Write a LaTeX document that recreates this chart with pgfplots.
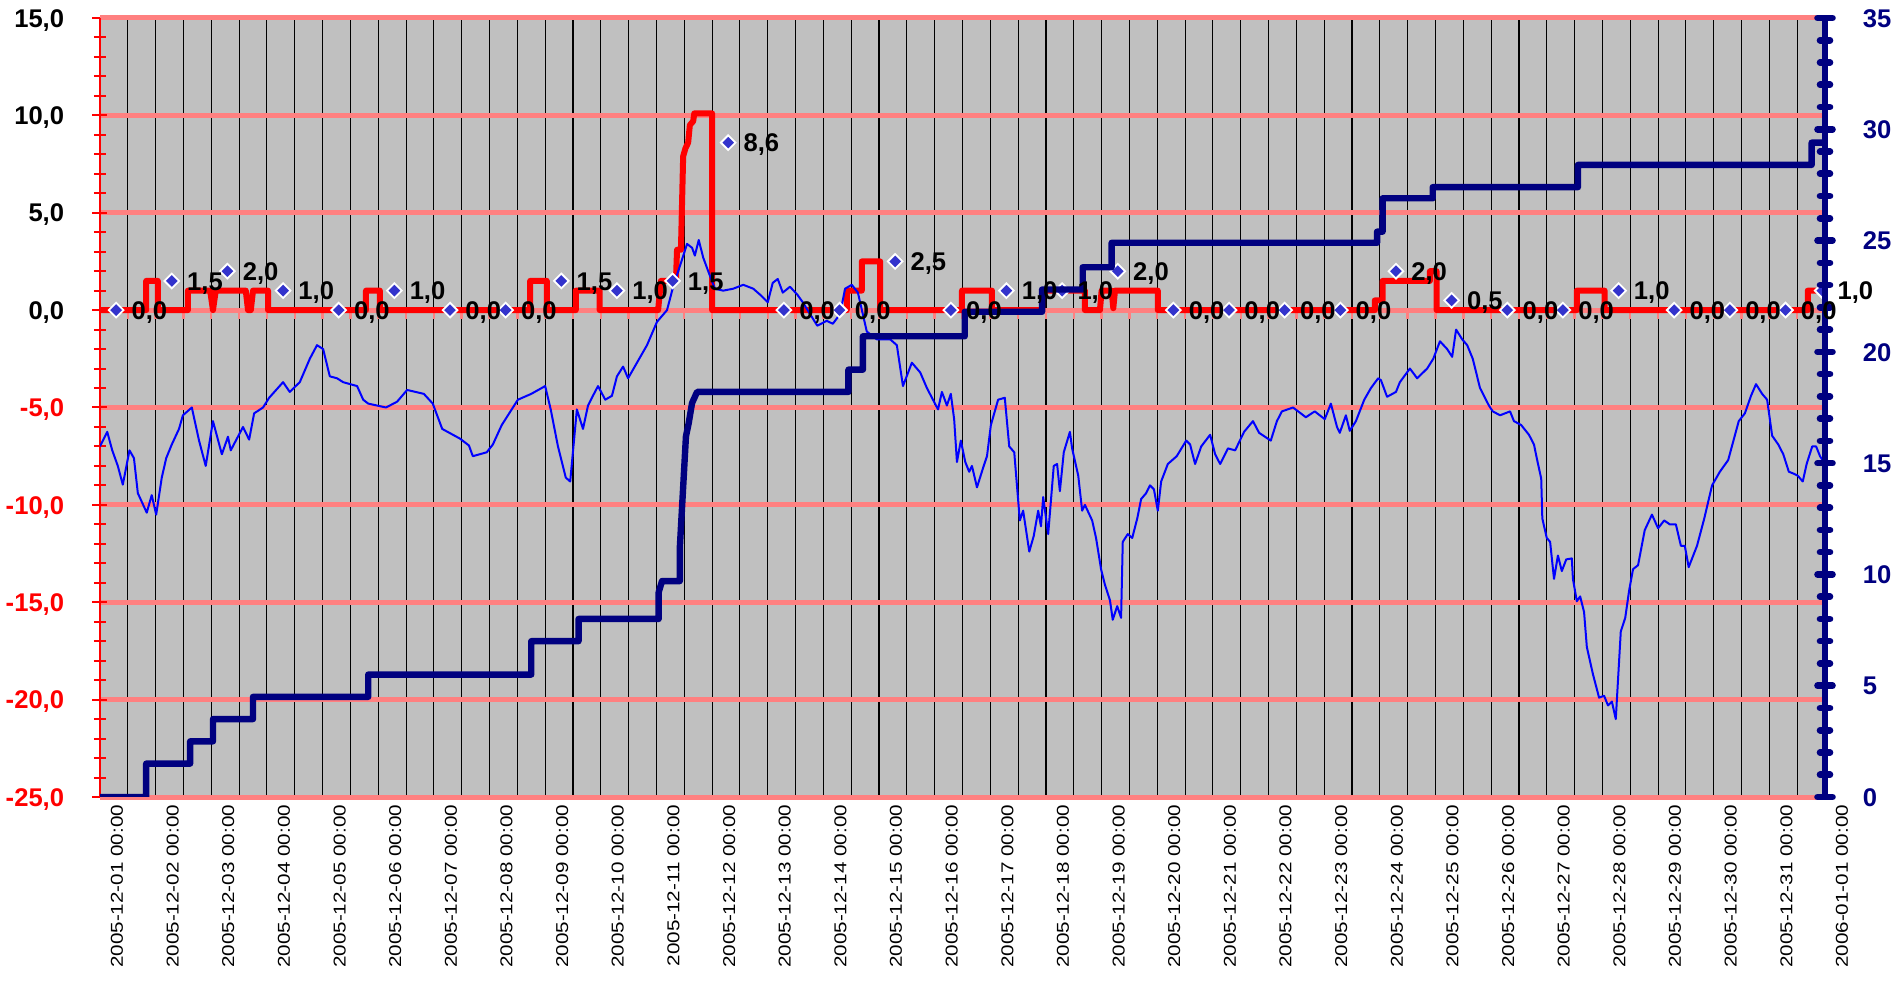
\documentclass[border=0pt]{standalone}
\usepackage{fontspec}
\setmainfont{Liberation Sans}
\newfontfamily\datefont[FakeStretch=1.2]{Liberation Sans}
\usepackage{pgfplots}
\usepackage{pgfplotstable}
\pgfplotsset{compat=1.18}

\definecolor{bggray}{RGB}{192,192,192}
\definecolor{gridpink}{RGB}{255,128,128}
\definecolor{navyc}{RGB}{0,0,128}
\definecolor{diafill}{RGB}{51,51,204}
\newcommand\lblfont{\fontsize{12.8bp}{14bp}\selectfont\bfseries}

% temperature (left axis)
\pgfplotstableread{
x y
0.00 -7.0
0.13 -6.25
0.22 -7.2
0.32 -8.0
0.41 -8.96
0.53 -7.2
0.61 -7.6
0.68 -9.4
0.84 -10.4
0.93 -9.5
1.01 -10.5
1.11 -8.6
1.19 -7.6
1.29 -6.9
1.42 -6.1
1.49 -5.4
1.65 -5.0
1.78 -6.7
1.90 -8.0
2.03 -5.7
2.19 -7.4
2.30 -6.5
2.35 -7.2
2.57 -6.0
2.68 -6.65
2.77 -5.3
2.93 -5.0
3.04 -4.5
3.29 -3.7
3.41 -4.2
3.59 -3.7
3.77 -2.5
3.90 -1.8
4.01 -2.0
4.13 -3.4
4.26 -3.5
4.37 -3.7
4.62 -3.9
4.73 -4.6
4.82 -4.8
5.14 -5.0
5.34 -4.7
5.52 -4.1
5.82 -4.3
5.98 -4.8
6.15 -6.1
6.47 -6.6
6.63 -6.95
6.70 -7.5
6.95 -7.3
7.06 -6.9
7.22 -5.9
7.51 -4.6
7.75 -4.3
8.00 -3.9
8.10 -5.1
8.23 -7.0
8.37 -8.6
8.45 -8.8
8.57 -5.1
8.68 -6.1
8.77 -4.9
8.84 -4.5
8.95 -3.9
9.08 -4.6
9.20 -4.4
9.29 -3.4
9.40 -2.9
9.49 -3.5
9.65 -2.7
9.83 -1.8
10.01 -0.6
10.19 0.0
10.30 1.2
10.46 2.6
10.55 3.4
10.64 3.2
10.69 2.8
10.76 3.6
10.84 2.7
10.93 2.0
11.05 1.1
11.20 1.0
11.38 1.1
11.56 1.3
11.74 1.1
11.86 0.8
12.00 0.4
12.09 1.4
12.18 1.6
12.27 0.9
12.40 1.2
12.53 0.8
12.63 0.4
12.89 -0.8
13.06 -0.55
13.17 -0.7
13.30 -0.2
13.39 1.1
13.51 1.3
13.62 0.9
13.78 -1.1
13.96 -1.5
14.20 -1.5
14.32 -1.8
14.43 -3.9
14.59 -2.7
14.74 -3.2
14.86 -4.0
15.06 -5.1
15.13 -4.2
15.22 -4.9
15.29 -4.3
15.35 -5.6
15.40 -7.8
15.47 -6.7
15.55 -7.8
15.62 -8.3
15.67 -8.0
15.76 -9.1
15.87 -8.1
15.94 -7.5
16.01 -5.9
16.14 -4.6
16.26 -4.5
16.34 -7.0
16.43 -7.3
16.53 -10.8
16.59 -10.3
16.70 -12.4
16.78 -11.6
16.86 -10.3
16.91 -11.1
16.95 -9.6
17.04 -11.5
17.14 -8.0
17.20 -7.9
17.25 -9.3
17.32 -7.3
17.43 -6.25
17.47 -7.1
17.58 -8.5
17.65 -10.3
17.70 -10.0
17.83 -10.8
17.90 -11.7
17.99 -13.3
18.06 -14.1
18.15 -14.9
18.20 -15.9
18.28 -15.2
18.35 -15.8
18.38 -11.9
18.47 -11.5
18.55 -11.7
18.64 -10.7
18.71 -9.7
18.80 -9.4
18.87 -9.0
18.94 -9.2
19.01 -10.3
19.07 -8.8
19.19 -7.9
19.35 -7.5
19.52 -6.7
19.59 -6.9
19.68 -7.9
19.79 -7.0
19.95 -6.4
20.04 -7.4
20.13 -7.9
20.27 -7.1
20.40 -7.2
20.56 -6.25
20.72 -5.7
20.83 -6.3
21.04 -6.7
21.15 -5.7
21.24 -5.2
21.44 -5.0
21.67 -5.5
21.83 -5.2
22.01 -5.6
22.12 -4.8
22.23 -6.0
22.28 -6.3
22.39 -5.4
22.46 -6.2
22.57 -5.7
22.72 -4.6
22.84 -4.0
22.97 -3.5
23.02 -3.6
23.13 -4.45
23.29 -4.2
23.36 -3.7
23.54 -3.0
23.67 -3.5
23.85 -3.0
23.96 -2.5
24.08 -1.6
24.21 -2.0
24.30 -2.4
24.37 -1.0
24.48 -1.5
24.57 -1.8
24.67 -2.5
24.80 -4.0
24.96 -4.9
25.03 -5.2
25.16 -5.4
25.34 -5.2
25.41 -5.7
25.54 -5.9
25.68 -6.4
25.77 -6.9
25.82 -7.6
25.90 -8.65
25.92 -10.7
26.00 -11.7
26.06 -11.9
26.13 -13.8
26.20 -12.6
26.27 -13.4
26.35 -12.8
26.45 -12.75
26.47 -13.8
26.54 -14.95
26.60 -14.7
26.67 -15.5
26.72 -17.3
26.83 -18.7
26.94 -19.9
27.03 -19.8
27.10 -20.3
27.17 -20.1
27.24 -21.0
27.33 -16.5
27.41 -15.8
27.48 -14.4
27.55 -13.3
27.64 -13.1
27.76 -11.3
27.89 -10.5
28.00 -11.2
28.11 -10.8
28.21 -11.0
28.32 -11.0
28.41 -12.1
28.48 -12.1
28.55 -13.2
28.70 -12.1
28.83 -10.7
28.97 -9.0
29.11 -8.3
29.26 -7.7
29.35 -6.75
29.45 -5.7
29.56 -5.3
29.67 -4.4
29.76 -3.8
29.87 -4.3
29.96 -4.6
30.05 -6.45
30.16 -6.9
30.25 -7.4
30.35 -8.3
30.44 -8.4
30.51 -8.5
30.60 -8.8
30.67 -7.9
30.77 -7.0
30.84 -7.0
30.91 -7.5
30.98 -7.8
}\temptab

% 12-hour precipitation (left axis)
\pgfplotstableread{
x y
0 0
0.83 0
0.83 1.5
1.04 1.5
1.04 0
1.58 0
1.58 1.0
1.98 1.0
2.03 0
2.08 1.0
2.62 1.0
2.66 0
2.71 0
2.75 1.0
3.02 1.0
3.02 0
4.78 0
4.78 1.0
5.03 1.0
5.03 0
7.73 0
7.73 1.5
8.03 1.5
8.03 0
8.55 0
8.55 1.0
8.98 1.0
8.98 0
10.03 0
10.08 1.5
10.35 1.5
10.37 3.1
10.44 3.1
10.48 7.9
10.52 8.3
10.57 8.6
10.60 9.5
10.66 9.7
10.68 10.1
11.0 10.1
11.0 0
13.42 0
13.42 1.0
13.69 1.0
13.69 2.5
14.02 2.5
14.02 0
15.49 0
15.49 1.0
16.03 1.0
16.03 0
16.93 0
16.93 1.0
17.70 1.0
17.70 0
17.97 0
18.0 1.0
18.18 1.0
18.21 0.1
18.24 1.0
19.01 1.0
19.01 0
22.91 0
22.91 0.5
23.05 0.5
23.05 1.5
23.90 1.5
23.90 2.0
24.02 2.0
24.02 0
26.54 0
26.54 1.0
27.04 1.0
27.04 0
30.69 0
30.69 1.0
31 1.0
}\redtab

% cumulative precipitation (right axis)
\pgfplotstableread{
x y
0 0
0.83 0
0.83 1.5
1.62 1.5
1.62 2.5
2.03 2.5
2.03 3.5
2.75 3.5
2.75 4.5
4.82 4.5
4.82 5.5
7.75 5.5
7.75 7.0
8.6 7.0
8.6 8.0
10.04 8.0
10.04 9.2
10.1 9.7
10.42 9.7
10.42 11.2
10.53 16.2
10.58 16.8
10.64 17.7
10.73 18.2
13.45 18.2
13.45 19.2
13.71 19.2
13.71 20.7
15.54 20.7
15.54 21.8
16.93 21.8
16.93 22.8
17.66 22.8
17.66 23.8
18.18 23.8
18.18 24.9
22.95 24.9
22.95 25.4
23.05 25.4
23.05 26.9
23.95 26.9
23.95 27.4
26.56 27.4
26.56 28.4
30.76 28.4
30.76 29.4
31 29.4
}\navytab

% daily sums (left axis)
\pgfplotstableread{
x y
0.29 0.0
1.29 1.5
2.29 2.0
3.29 1.0
4.29 0.0
5.29 1.0
6.29 0.0
7.29 0.0
8.29 1.5
9.29 1.0
10.29 1.5
11.29 8.6
12.29 0.0
13.29 0.0
14.29 2.5
15.29 0.0
16.29 1.0
17.29 1.0
18.29 2.0
19.29 0.0
20.29 0.0
21.29 0.0
22.29 0.0
23.29 2.0
24.29 0.5
25.29 0.0
26.29 0.0
27.29 1.0
28.29 0.0
29.29 0.0
30.29 0.0
30.95 1.0
}\diatab

\pgfplotsset{
  base/.style={scale only axis, width=862.5bp, height=389.5bp,
    xmin=0, xmax=31, at={(0,0)}, anchor=south west},
}

\begin{document}
\begin{tikzpicture}
\path[use as bounding box] (-50bp,-93bp) rectangle (902bp,398.5bp);

% A: background, vertical grid, notches on zero line
\begin{axis}[base, ymin=-25, ymax=15,
  axis background/.style={fill=bggray},
  axis y line=none, axis x line=middle,
  x axis line style={draw=none},
  xtick={0,0.5,...,31}, xticklabels={}, xmajorgrids,
  major grid style={black, line width=0.55bp},
  tick align=outside, major tick length=4.5bp,
  xtick style={gridpink, line width=1.2bp},
  ytick=\empty]
\addplot[draw=none] coordinates {(0,0)};
\end{axis}

% B: left axis, pink grid, precipitation 12h, temperature, diamonds
\begin{axis}[base, ymin=-25, ymax=15,
  axis y line*=left,
  x axis line style={gridpink, line width=1.5bp},
  y axis line style={red, line width=1bp},
  xtick={0,...,31},
  xticklabels={2005-12-01 00:00,2005-12-02 00:00,2005-12-03 00:00,2005-12-04 00:00,2005-12-05 00:00,2005-12-06 00:00,2005-12-07 00:00,2005-12-08 00:00,2005-12-09 00:00,2005-12-10 00:00,2005-12-11 00:00,2005-12-12 00:00,2005-12-13 00:00,2005-12-14 00:00,2005-12-15 00:00,2005-12-16 00:00,2005-12-17 00:00,2005-12-18 00:00,2005-12-19 00:00,2005-12-20 00:00,2005-12-21 00:00,2005-12-22 00:00,2005-12-23 00:00,2005-12-24 00:00,2005-12-25 00:00,2005-12-26 00:00,2005-12-27 00:00,2005-12-28 00:00,2005-12-29 00:00,2005-12-30 00:00,2005-12-31 00:00,2006-01-01 00:00},
  xtick style={draw=none},
  xticklabel style={rotate=90, anchor=east, inner sep=0pt, yshift=-8.5bp,
    font=\datefont\fontsize{8.6bp}{10bp}\selectfont},
  ytick={-25,-20,...,15}, minor y tick num=4,
  ymajorgrids, major grid style={gridpink, line width=2.5bp},
  tick align=center, major tick length=7.5bp, minor tick length=6bp,
  ytick style={red, line width=1bp},
  minor tick style={red, line width=1bp},
  yticklabel style={font=\lblfont, anchor=base east, inner sep=0pt,
    xshift=-14bp, yshift=-4.6bp},
  yticklabel={\pgfmathparse{\tick<0}\ifdim\pgfmathresult pt>0.5pt\color{red}\fi\pgfmathprintnumber[fixed,fixed zerofill,precision=1,use comma,assume math mode=true]{\tick}},
]
\addplot[red, line width=3bp, line join=round] table {\redtab};
\addplot[blue, line width=1bp, line join=round] table {\temptab};
\addplot[only marks, mark=square*, mark size=2.6bp,
  mark options={rotate=45, fill=diafill, draw=white, line width=0.9bp}] table {\diatab};
\end{axis}

% C: right axis, cumulative precipitation
\begin{axis}[base, ymin=0, ymax=35,
  axis x line=none, axis y line*=right,
  y axis line style={navyc, line width=3.3bp},
  ytick={0,5,...,35}, minor y tick num=4,
  tick align=center, major tick length=7.5bp, minor tick length=5bp,
  tick style={navyc, line width=3.3bp, line cap=round},
  yticklabel style={navyc, font=\lblfont, anchor=base west, inner sep=0pt,
    xshift=15bp, yshift=-4.6bp},
  /pgf/number format/assume math mode=true,
]
\addplot[navyc, line width=3.2bp, line join=round] table {\navytab};
\end{axis}

% D: data labels
\begin{axis}[base, ymin=-25, ymax=15, hide axis, clip=false]
\addplot[draw=none, mark=none, point meta=y,
  nodes near coords={\pgfmathprintnumber[fixed,fixed zerofill,precision=1,use comma,assume math mode=true]{\pgfplotspointmeta}},
  nodes near coords style={font=\lblfont, text=black, anchor=base west,
    inner sep=0pt, xshift=7.5bp, yshift=-4.6bp}] table {\diatab};
\end{axis}
\end{tikzpicture}
\end{document}
